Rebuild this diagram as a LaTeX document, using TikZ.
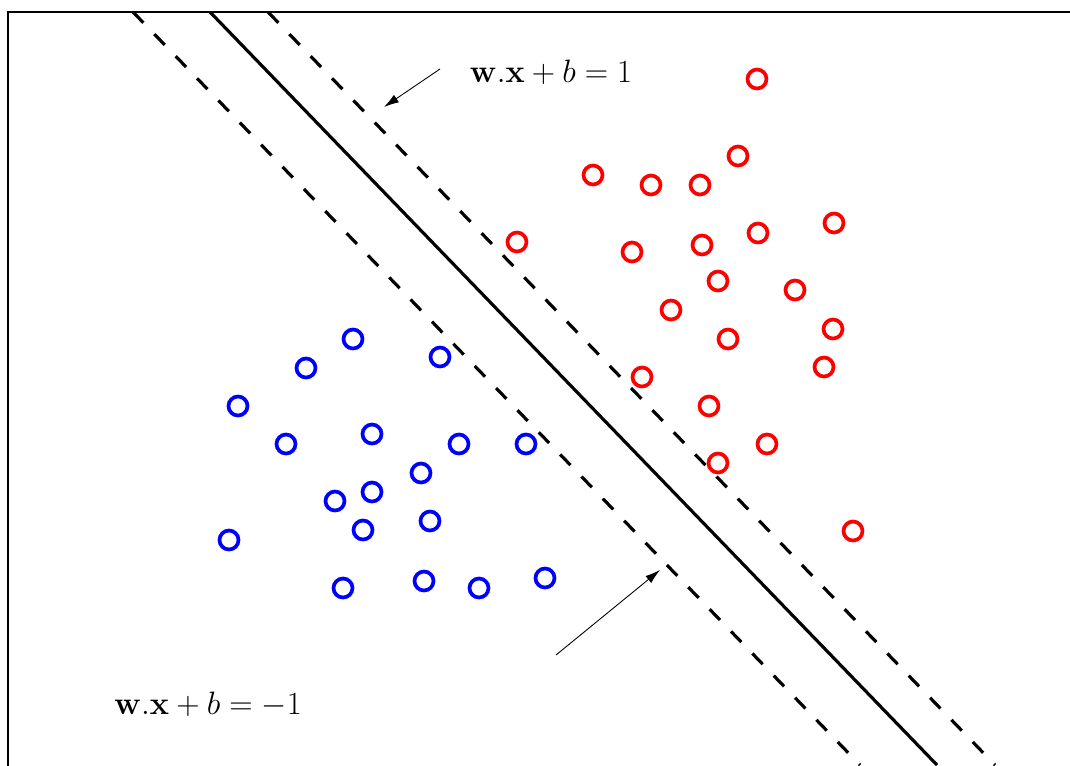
\documentclass[tikz,border=0pt]{standalone}
\usepackage{graphicx}
\usepackage{xcolor}
\usetikzlibrary{arrows.meta}
\definecolor{svmred}{HTML}{FF0000}
\definecolor{svmblue}{HTML}{0000FF}

\begin{document}
\begin{tikzpicture}[
  x=0.02cm,y=-0.02cm,
  frame/.style={draw=black,line width=0.6pt},
  hyper/.style={draw=black,line width=1.8pt},
  margin/.style={draw=black,line width=1.8pt,dash pattern=on 8.5pt off 9pt},
  pospt/.style={circle,draw=svmred,line width=2.1pt,minimum size=0.38cm,inner sep=0pt},
  negpt/.style={circle,draw=svmblue,line width=2.1pt,minimum size=0.38cm,inner sep=0pt},
  eq/.style={font=\LARGE,inner sep=0pt},
  arrow/.style={-{Latex[length=3mm,width=1.8mm]},draw=black,line width=0.5pt}
]
\clip (0,0) rectangle (1070,765);
\draw[frame] (8,12) rectangle (1200,900);
\coordinate (ltop) at (133,12);
\coordinate (lbot) at (860,765);
\coordinate (htop) at (210,12);
\coordinate (hbot) at (937,765);
\coordinate (rtop) at (268,12);
\coordinate (rbot) at (995,765);
\draw[margin] (ltop) -- (lbot);
\draw[hyper] (htop) -- (hbot);
\draw[margin] (rtop) -- (rbot);
\foreach \x/\y [count=\i] in {757/79,738/156,593/175,651/185,700/185,834/223,758/233,517/242,632/252,702/245,718/281,795/290,671/310,833/329,728/339,824/367,642/377,709/406,767/444,718/463,853/531}
  \node[pospt] (r\i) at (\x,\y) {};
\foreach \x/\y [count=\i] in {353/339,306/368,440/357,238/406,286/444,372/434,459/444,526/444,421/473,372/492,335/501,430/521,363/530,229/540,343/588,424/581,479/588,545/578}
  \node[negpt] (b\i) at (\x,\y) {};
\node[eq] (plus) at (551,72) {\scalebox{1.066}{$\mathbf{w}.\mathbf{x}+b=1$}};
\node[eq] (minus) at (208,705) {\scalebox{1.066}{$\mathbf{w}.\mathbf{x}+b=-1$}};
\coordinate (ua) at (440,69);
\coordinate (ub) at (384,107);
\coordinate (la) at (556,655);
\coordinate (lb) at (660,570);
\draw[arrow] (ua) -- (ub);
\draw[arrow] (la) -- (lb);
\end{tikzpicture}
\end{document}
